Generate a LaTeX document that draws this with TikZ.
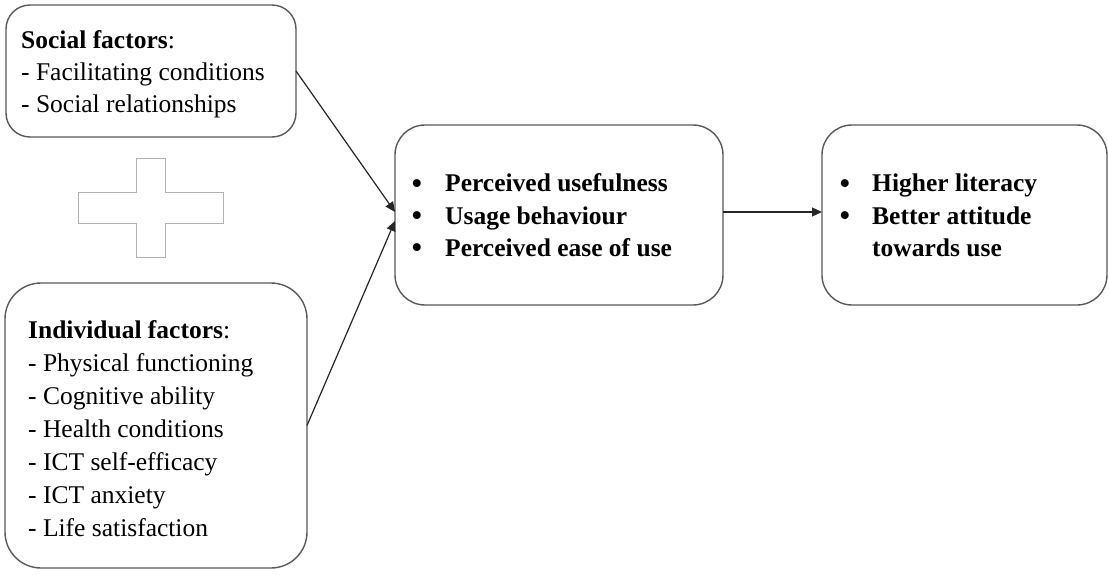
\documentclass[tikz,border=0pt]{standalone}
\usepackage{fontspec}
\setmainfont{Liberation Serif}
\usetikzlibrary{arrows.meta}
\begin{document}
\begin{tikzpicture}[x=1pt,y=-1pt,
  box/.style={draw=black!65,line width=1.4pt,inner sep=0pt,outer sep=0pt},
  txt/.style={anchor=base west,inner sep=0pt,font=\fontsize{25.5}{32}\selectfont},
  btxt/.style={txt,font=\fontsize{25.5}{32}\selectfont\bfseries},
  bul/.style={anchor=base,inner sep=0pt,font=\fontsize{33}{32}\selectfont},
  conn/.style={draw=black!85,line width=1.2pt,-{Triangle[length=10pt,width=9pt]}}]
\useasboundingbox (0,0) rectangle (1109,575);
% boxes
\node[box,rounded corners=24pt,minimum width=290pt,minimum height=132pt] (b1) at (151,71) {};
\node[box,rounded corners=36pt,minimum width=302pt,minimum height=285pt] (b2) at (156,425.5) {};
\node[box,rounded corners=30pt,minimum width=328pt,minimum height=180pt] (b3) at (559,215) {};
\node[box,rounded corners=30pt,minimum width=285pt,minimum height=180pt] (b4) at (964.5,215) {};
% plus sign
\draw[black!30,line width=1pt] (136,159) -- (165,159) -- (165,193) -- (223,193) -- (223,223) -- (165,223) -- (165,257) -- (136,257) -- (136,223) -- (78,223) -- (78,193) -- (136,193) -- cycle;
% box 1 text
\node[txt] (s1) at (21,49) {\textbf{Social factors}:};
\node[txt] (s2) at (21,81) {- Facilitating conditions};
\node[txt] (s3) at (21,113) {- Social relationships};
% box 2 text
\node[txt] (i1) at (28,338) {\textbf{Individual factors}:};
\node[txt] (i2) at (28,371) {- Physical functioning};
\node[txt] (i3) at (28,404) {- Cognitive ability};
\node[txt] (i4) at (28,437) {- Health conditions};
\node[txt] (i5) at (28,470) {- ICT self-efficacy};
\node[txt] (i6) at (28,503) {- ICT anxiety};
\node[txt] (i7) at (28,536) {- Life satisfaction};
% box 3 text
\node[bul] (p1b) at (417,194) {•};
\node[bul] (p2b) at (417,226) {•};
\node[bul] (p3b) at (417,258) {•};
\node[btxt] (p1) at (445,192) {Perceived usefulness};
\node[btxt] (p2) at (445,224) {Usage behaviour};
\node[btxt] (p3) at (445,256) {Perceived ease of use};
% box 4 text
\node[bul] (h1b) at (845,194) {•};
\node[bul] (h2b) at (845,226) {•};
\node[btxt] (h1) at (872,192) {Higher literacy};
\node[btxt] (h2) at (872,224) {Better attitude};
\node[btxt] (h3) at (872,256) {towards use};
% connectors
\draw[conn] (b1.east) -- ([yshift=3pt]b3.west);
\draw[conn] (b2.east) -- ([yshift=-6pt]b3.west);
\draw[conn] ([yshift=3pt]b3.east) -- ([yshift=3pt]b4.west);
\end{tikzpicture}
\end{document}
